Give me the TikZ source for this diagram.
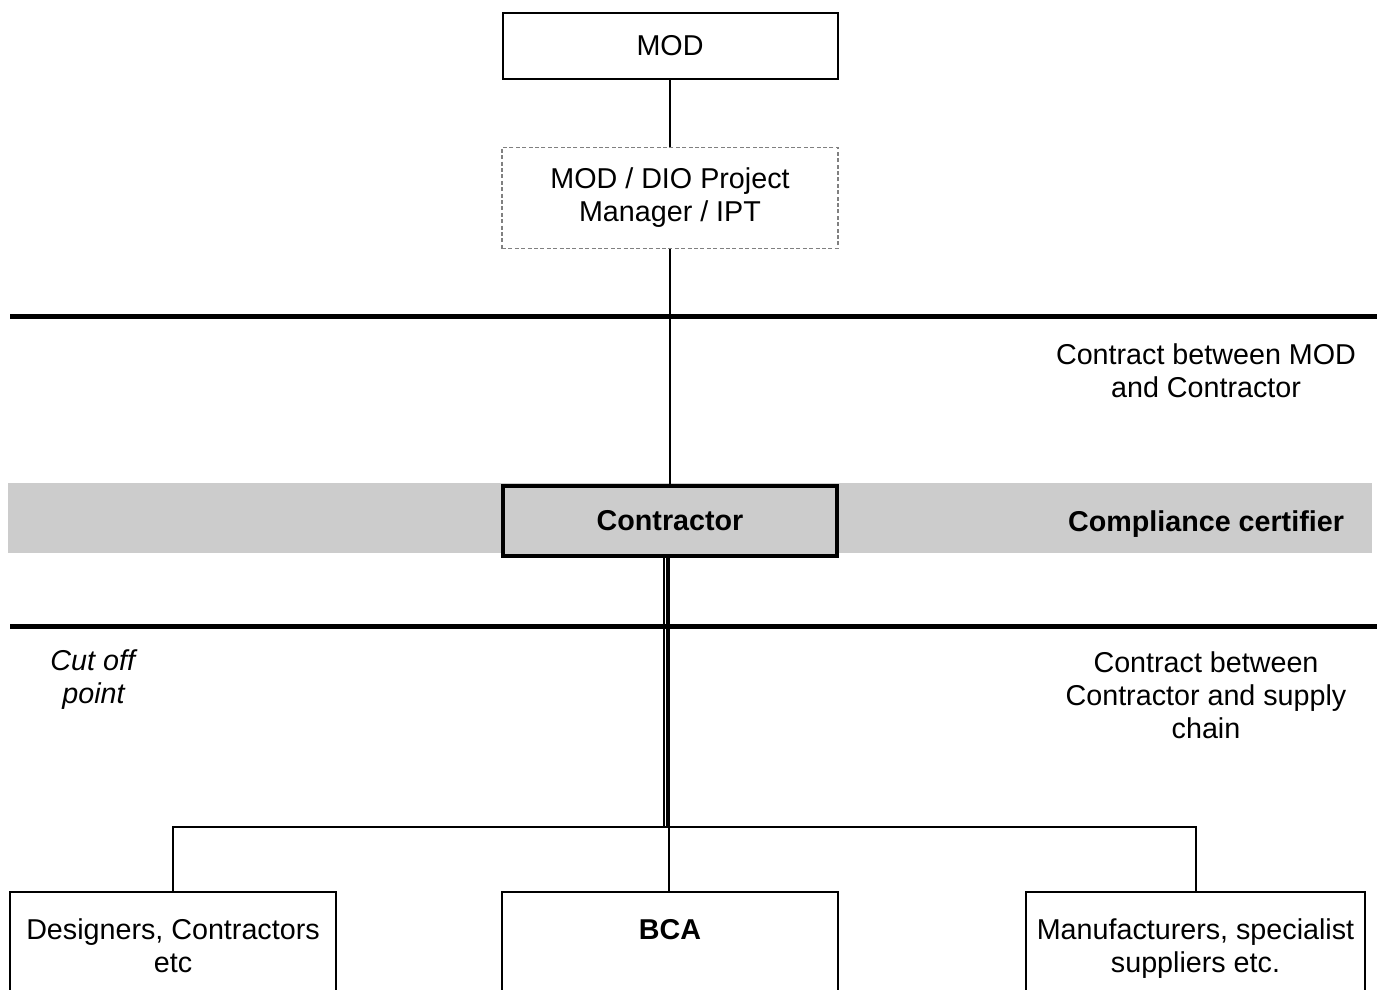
\documentclass[tikz,border=0pt]{standalone}
\usepackage{fontspec}
\setmainfont{Liberation Sans}

\begin{document}
\begin{tikzpicture}[x=0.5pt,y=-0.5pt,font=\fontsize{14.35pt}{16.5pt}\selectfont]

      \useasboundingbox (0,0) rectangle (1377,990);

      % shaded band and the two cut lines
      \fill[black!20] (8,483) rectangle (1372,553);
      \draw[line width=2.5pt] (10,316.5) -- (1377,316.5);
      \draw[line width=2.5pt] (10,626) -- (1377,626);

      \begin{scope}[every node/.style={draw,line width=1pt,align=center}]
        \node[minimum width=167.5pt,minimum height=33pt] (mod) at (670,46) {MOD};
        \node[draw=gray,line width=0.6pt,dash pattern=on 2pt off 1.2pt,
              minimum width=168pt,minimum height=50.5pt] (dio) at (670,198)
              {MOD / DIO Project\\Manager / IPT};
        \node[line width=2.25pt,fill=black!20,
              minimum width=167pt,minimum height=35pt] (con) at (670,521) {\textbf{Contractor}};
        \node[minimum width=163pt,minimum height=57pt] (des) at (173,949)
              {Designers, Contractors\strut\\etc\strut};
        \node[minimum width=168pt,minimum height=57pt] (bca) at (670,949)
              {\textbf{BCA}\strut\\\strut};
        \node[minimum width=169.5pt,minimum height=57pt] (man) at (1195.5,949)
              {Manufacturers, specialist\strut\\suppliers etc.\strut};
      \end{scope}

      \begin{scope}[every node/.style={align=center}]
        \node (mc)  at (1206,371) {Contract between MOD\\and Contractor};
        \node (cc)  at (1206,524) {\textbf{Compliance certifier}};
        \node (cut) at (94,680)   {\textit{Cut off}\\\textit{point}};
        \node (sc)  at (1206,695) {Contract between\\Contractor and supply\\chain};
      \end{scope}

      \coordinate (br) at (669,827);

      \begin{scope}[every edge/.style={draw,line width=1pt}]
        \path (mod) edge (dio);
        \path (dio) edge (con);
        \path (br)  edge (br |- bca.north);
      \end{scope}

      % double link down from the contractor
      \draw[line width=2pt] ([xshift=-1pt]con.south) -- ([xshift=-0.5pt]br);
      \draw[line width=0.75pt] ([xshift=-3pt]con.south) -- ([xshift=-2.5pt]br);

      \draw[line width=1pt] (des.north) |- (br) -| (man.north);

    \end{tikzpicture}
\end{document}
